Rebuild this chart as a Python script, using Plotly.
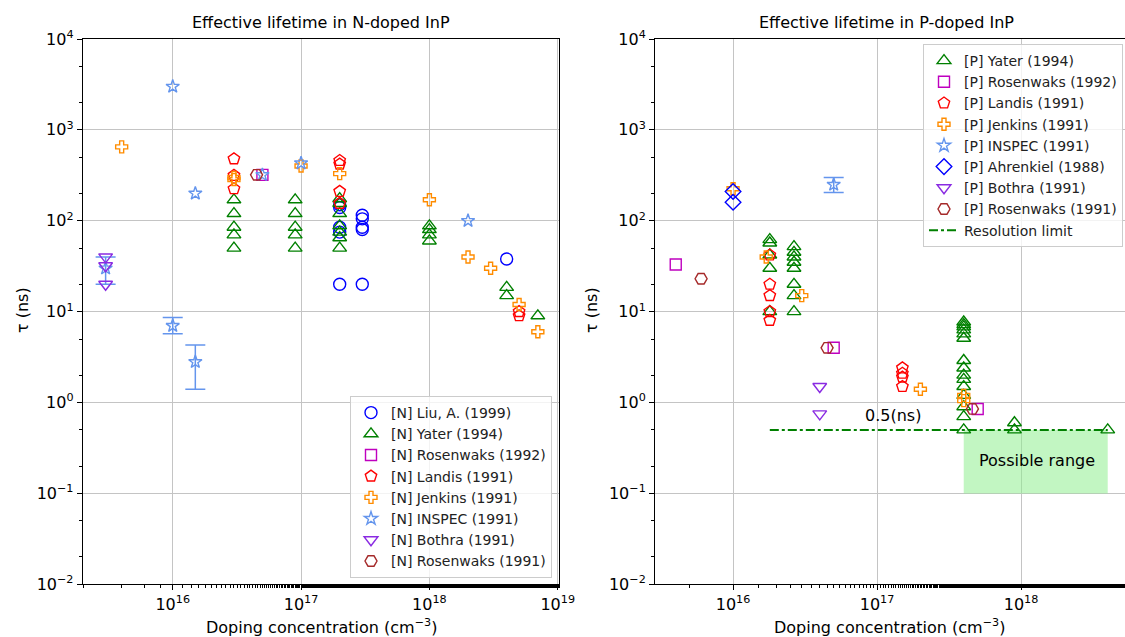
import plotly.graph_objects as go

# ---------------- N-doped data ----------------
n_liu_x = [2e17]*5 + [3e17]*5 + [4e18]
n_liu_y = [150, 140, 85, 75, 20, 115, 105, 85, 80, 20, 38]

n_yater_x = [3e16]*5 + [9e16]*5 + [2e17]*7 + [1e18]*4 + [4e18]*2 + [7e18]
n_yater_y = [170, 120, 85, 70, 50,
             170, 120, 85, 70, 50,
             175, 155, 120, 88, 75, 65, 50,
             88, 80, 70, 60,
             18.5, 15,
             9]

n_rosen92_x = [5e16]
n_rosen92_y = [320]

n_landis_x = [3e16]*3 + [2e17]*4 + [5e18]*2
n_landis_y = [480, 315, 225, 460, 420, 210, 155, 10, 9]

n_jenkins_x = [4e15, 3e16, 3e16, 1e17, 2e17, 1e18, 2e18, 3e18, 5e18, 7e18]
n_jenkins_y = [650, 300, 285, 400, 330, 170, 40, 30, 12, 6]

n_inspec_x = [3e15, 1e16, 1e16, 1.5e16, 1.5e16, 5e16, 1e17, 2e18]
n_inspec_y = [30, 3000, 7, 200, 2.8, 320, 430, 100]
n_inspec_err_x = [3e15, 1e16, 1.5e16]
n_inspec_err_y = [30, 7, 2.8]
n_inspec_err_lo = [20, 5.7, 1.4]
n_inspec_err_hi = [40, 8.6, 4.3]

n_bothra_x = [3e15]*3
n_bothra_y = [40, 32, 20]

n_rosen91_x = [4.5e16]
n_rosen91_y = [320]

# ---------------- P-doped data ----------------
p_yater_x = [1.8e16]*5 + [2.65e16]*8 + [4e17]*15 + [9e17]*2 + [4e18]
p_yater_y = [62, 57, 42, 30, 10,
             52, 45, 40, 35, 30, 20, 15, 10,
             7.7, 7.2, 6.8, 6.3, 5.7, 5.1, 2.9, 2.4, 2.0, 1.8, 1.5, 1.2, 0.9, 0.7, 0.5,
             0.6, 0.5,
             0.5]

p_rosen92_x = [4e15, 5e16, 5e17]
p_rosen92_y = [33, 4, 0.85]

p_landis_x = [1.8e16]*5 + [1.5e17]*4
p_landis_y = [42, 20, 15, 10, 8, 2.4, 2.1, 1.9, 1.5]

p_jenkins_x = [1e16, 1.7e16, 3e16, 2e17, 4e17, 4e17]
p_jenkins_y = [225, 40, 15, 1.4, 1.2, 1.05]

p_inspec_x = [5e16]
p_inspec_y = [250]
p_inspec_err_lo = [205]
p_inspec_err_hi = [300]

p_ahrenkiel_x = [1e16, 1e16]
p_ahrenkiel_y = [210, 160]

p_bothra_x = [4e16, 4e16]
p_bothra_y = [1.5, 0.75]

p_rosen91_x = [6e15, 4.5e16, 4.6e17]
p_rosen91_y = [23, 4, 0.85]

res_limit_x = [1.8e16, 4e18]
res_limit_y = [0.5, 0.5]

range_box_x = [4e17, 4e18]
range_box_y = [0.1, 0.5]

# tick labels
x_exps = [16, 17, 18, 19]
y_exps = [-2, -1, 0, 1, 2, 3, 4]

# ---------------- styling ----------------
FONT = "DejaVu Sans"
W, H = 1125, 637
C_BLUE = "#0000ff"
C_GREEN = "#008000"
C_MAG = "#bf00bf"
C_RED = "#ff0000"
C_ORANGE = "#ff8c00"
C_CORN = "#6495ed"
C_VIOLET = "#8a2be2"
C_BROWN = "#a52a2a"

fig = go.Figure()


def add(x, y, name, symbol, color, size, xa, ya, leg):
    fig.add_trace(go.Scatter(
        x=x, y=y, mode="markers", name=name, xaxis=xa, yaxis=ya, legend=leg,
        marker=dict(symbol=symbol, size=size, color=color,
                    line=dict(color=color, width=1.4)),
    ))


def add_err(x, y, lo, hi, color, xa, ya, leg):
    fig.add_trace(go.Scatter(
        x=x, y=y, mode="markers", showlegend=False, xaxis=xa, yaxis=ya, legend=leg,
        marker=dict(size=1, color="rgba(0,0,0,0)"),
        error_y=dict(type="data", symmetric=False,
                     array=[h - v for h, v in zip(hi, y)],
                     arrayminus=[v - l for l, v in zip(lo, y)],
                     color=color, thickness=1.5, width=10),
    ))


# left subplot
add_err(n_inspec_err_x, n_inspec_err_y, n_inspec_err_lo, n_inspec_err_hi, C_CORN, "x", "y", "legend")
add(n_liu_x, n_liu_y, "[N] Liu, A. (1999)", "circle-open", C_BLUE, 12, "x", "y", "legend")
add(n_yater_x, n_yater_y, "[N] Yater (1994)", "triangle-up-open", C_GREEN, 12, "x", "y", "legend")
add(n_rosen92_x, n_rosen92_y, "[N] Rosenwaks (1992)", "square-open", C_MAG, 11, "x", "y", "legend")
add(n_landis_x, n_landis_y, "[N] Landis (1991)", "pentagon-open", C_RED, 12, "x", "y", "legend")
add(n_jenkins_x, n_jenkins_y, "[N] Jenkins (1991)", "cross-open", C_ORANGE, 10, "x", "y", "legend")
add(n_inspec_x, n_inspec_y, "[N] INSPEC (1991)", "star-open", C_CORN, 10, "x", "y", "legend")
add(n_bothra_x, n_bothra_y, "[N] Bothra (1991)", "triangle-down-open", C_VIOLET, 12, "x", "y", "legend")
add(n_rosen91_x, n_rosen91_y, "[N] Rosenwaks (1991)", "hexagon2-open", C_BROWN, 12, "x", "y", "legend")

# right subplot
fig.add_trace(go.Scatter(
    x=[range_box_x[0], range_box_x[1], range_box_x[1], range_box_x[0], range_box_x[0]],
    y=[range_box_y[0], range_box_y[0], range_box_y[1], range_box_y[1], range_box_y[0]],
    mode="lines", fill="toself", fillcolor="rgba(144,238,144,0.55)",
    line=dict(width=0), showlegend=False, xaxis="x2", yaxis="y2", legend="legend2",
    hoverinfo="skip",
))
add_err(p_inspec_x, p_inspec_y, p_inspec_err_lo, p_inspec_err_hi, C_CORN, "x2", "y2", "legend2")
add(p_yater_x, p_yater_y, "[P] Yater (1994)", "triangle-up-open", C_GREEN, 12, "x2", "y2", "legend2")
add(p_rosen92_x, p_rosen92_y, "[P] Rosenwaks (1992)", "square-open", C_MAG, 11, "x2", "y2", "legend2")
add(p_landis_x, p_landis_y, "[P] Landis (1991)", "pentagon-open", C_RED, 12, "x2", "y2", "legend2")
add(p_jenkins_x, p_jenkins_y, "[P] Jenkins (1991)", "cross-open", C_ORANGE, 10, "x2", "y2", "legend2")
add(p_inspec_x, p_inspec_y, "[P] INSPEC (1991)", "star-open", C_CORN, 10, "x2", "y2", "legend2")
add(p_ahrenkiel_x, p_ahrenkiel_y, "[P] Ahrenkiel (1988)", "diamond-open", C_BLUE, 12, "x2", "y2", "legend2")
add(p_bothra_x, p_bothra_y, "[P] Bothra (1991)", "triangle-down-open", C_VIOLET, 12, "x2", "y2", "legend2")
add(p_rosen91_x, p_rosen91_y, "[P] Rosenwaks (1991)", "hexagon2-open", C_BROWN, 12, "x2", "y2", "legend2")
fig.add_trace(go.Scatter(
    x=res_limit_x, y=res_limit_y, mode="lines", name="Resolution limit",
    line=dict(color=C_GREEN, width=2, dash="dashdot"),
    xaxis="x2", yaxis="y2", legend="legend2",
))

# ---------------- axes ----------------
def sup(e):
    return "10<sup>%s</sup>" % (str(e).replace("-", "−"))

ydom = [1 - 584.3 / H, 1 - 39 / H]
common = dict(
    type="log", showgrid=True, gridcolor="#c4c4c4", gridwidth=1,
    showline=True, linecolor="black", linewidth=1, zeroline=False,
    ticks="outside", ticklen=5, tickwidth=1, tickcolor="black",
    automargin=False,
    tickfont=dict(family=FONT, size=16, color="black"),
    minor=dict(ticks="outside", ticklen=3, tickcolor="black", showgrid=False),
)
xt = dict(tickmode="array", tickvals=[10.0 ** e for e in x_exps], ticktext=[sup(e) for e in x_exps])
yt = dict(tickmode="array", tickvals=[10.0 ** e for e in y_exps], ticktext=[sup(e) for e in y_exps])

fig.update_layout(
    width=W, height=H, margin=dict(l=0, r=0, t=0, b=0),
    plot_bgcolor="white", paper_bgcolor="white",
    font=dict(family=FONT, color="black"),
    xaxis=dict(common, **xt, domain=[82.7 / W, 559 / W], range=[15.2985, 19.01],
               anchor="y", mirror=True),
    yaxis=dict(common, **yt, domain=ydom, range=[-2, 4], anchor="x", mirror=True),
    xaxis2=dict(common, **xt, domain=[655 / W, 1.0], range=[15.458, 18.722],
                anchor="y2", mirror=True),
    yaxis2=dict(common, **yt, domain=ydom, range=[-2, 4], anchor="x2", mirror=False),
    legend=dict(x=552 / W, y=1 - 578 / H, xanchor="right", yanchor="bottom",
                bgcolor="rgba(255,255,255,0.8)", bordercolor="#cccccc", borderwidth=1,
                font=dict(family=FONT, size=14, color="#222222"), tracegroupgap=0),
    legend2=dict(x=1123 / W, y=1 - 44 / H, xanchor="right", yanchor="top",
                 bgcolor="rgba(255,255,255,0.8)", bordercolor="#cccccc", borderwidth=1,
                 font=dict(family=FONT, size=14, color="#222222"), tracegroupgap=0),
)

ann = []
def pa(text, xp, yp, size=16, angle=0):
    ann.append(dict(text=text, x=xp / W, y=1 - yp / H, xref="paper", yref="paper",
                    showarrow=False, xanchor="center", yanchor="middle", textangle=angle,
                    font=dict(family=FONT, size=size, color="black")))

pa("Effective lifetime in N-doped InP", 321, 22)
pa("Effective lifetime in P-doped InP", 886, 22)
pa("Doping concentration (cm<sup>−3</sup>)", 321, 626)
pa("Doping concentration (cm<sup>−3</sup>)", 889, 626)
pa("τ (ns)", 22, 310, angle=-90)
pa("τ (ns)", 591, 310, angle=-90)

ann.append(dict(text="0.5(ns)", x=17.108, y=-0.141, xref="x2", yref="y2",
                showarrow=False, font=dict(family=FONT, size=16, color="black")))
ann.append(dict(text="Possible range", x=18.11, y=-0.637, xref="x2", yref="y2",
                showarrow=False, font=dict(family=FONT, size=16, color="black")))
fig.update_layout(annotations=ann)

fig.write_html("out.html")
